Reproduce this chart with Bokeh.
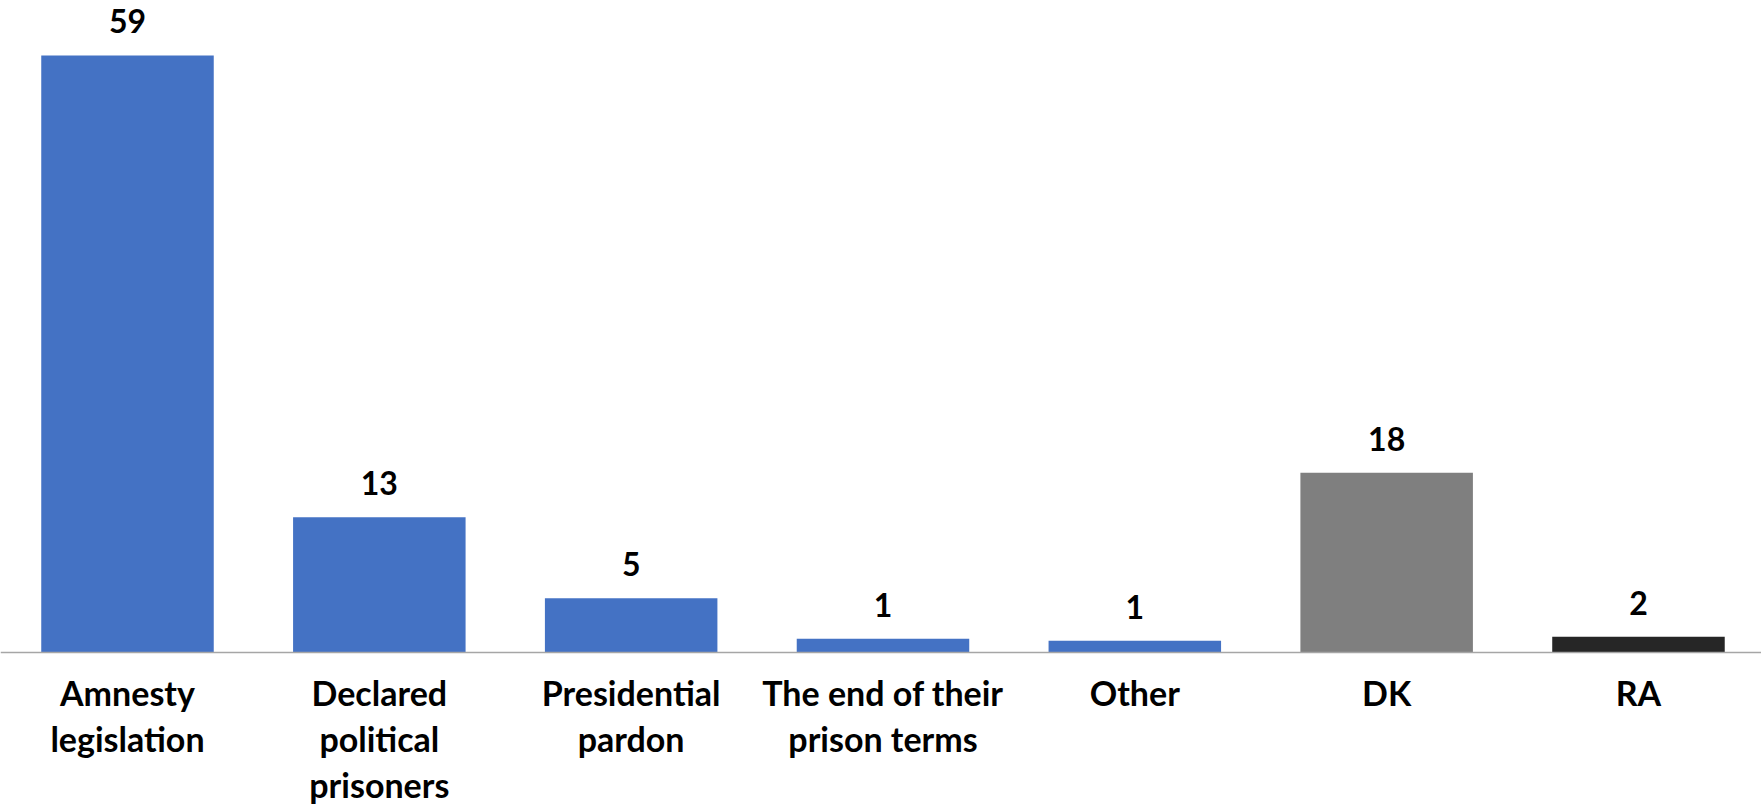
from bokeh.plotting import figure
from bokeh.models import Range1d, FixedTicker, ColumnDataSource
from bokeh.core.properties import value
from bokeh.embed import file_html
from bokeh.resources import INLINE

categories = ["Amnesty\nlegislation", "Declared\npolitical\nprisoners", "Presidential\npardon",
              "The end of their\nprison terms", "Other", "DK", "RA"]
values = [59.0, 13.4, 5.4, 1.4, 1.2, 17.8, 1.6]
labels = ["59", "13", "5", "1", "1", "18", "2"]
colors = ["#4472C4", "#4472C4", "#4472C4", "#4472C4", "#4472C4", "#7F7F7F", "#262626"]

xs = list(range(len(categories)))
src = ColumnDataSource(dict(x=xs, top=values, label=labels, color=colors))

FONT = "Lato"

p = figure(width=1761, height=812, output_backend="svg", toolbar_location=None,
           x_range=Range1d(-0.5043, 6.4885), y_range=Range1d(-15.75, 64.43),
           y_axis_location=None, min_border_left=0, min_border_right=0,
           min_border_top=0, min_border_bottom=0)
p.outline_line_color = None
p.xgrid.grid_line_color = None
p.ygrid.grid_line_color = None

p.vbar(x="x", top="top", bottom=0, width=0.685, color="color", line_color=None, source=src)
p.text(x="x", y="top", text="label", source=src, y_offset=-34,
       text_align="center", text_baseline="alphabetic",
       text_font=value(FONT), text_font_style="bold", text_font_size="32px", text_color="#000000")

ax = p.xaxis[0]
ax.fixed_location = 0
ax.ticker = FixedTicker(ticks=xs)
ax.major_label_overrides = {i: c for i, c in enumerate(categories)}
ax.major_tick_line_color = None
ax.minor_tick_line_color = None
ax.axis_line_color = "#A6A6A6"
ax.axis_line_width = 1.5
ax.major_label_text_font = FONT
ax.major_label_text_font_style = "bold"
ax.major_label_text_font_size = "34px"
ax.major_label_text_color = "#000000"
ax.major_label_text_line_height = 1.12
ax.major_label_standoff = 13

open("out.html", "w").write(file_html(p, INLINE))
